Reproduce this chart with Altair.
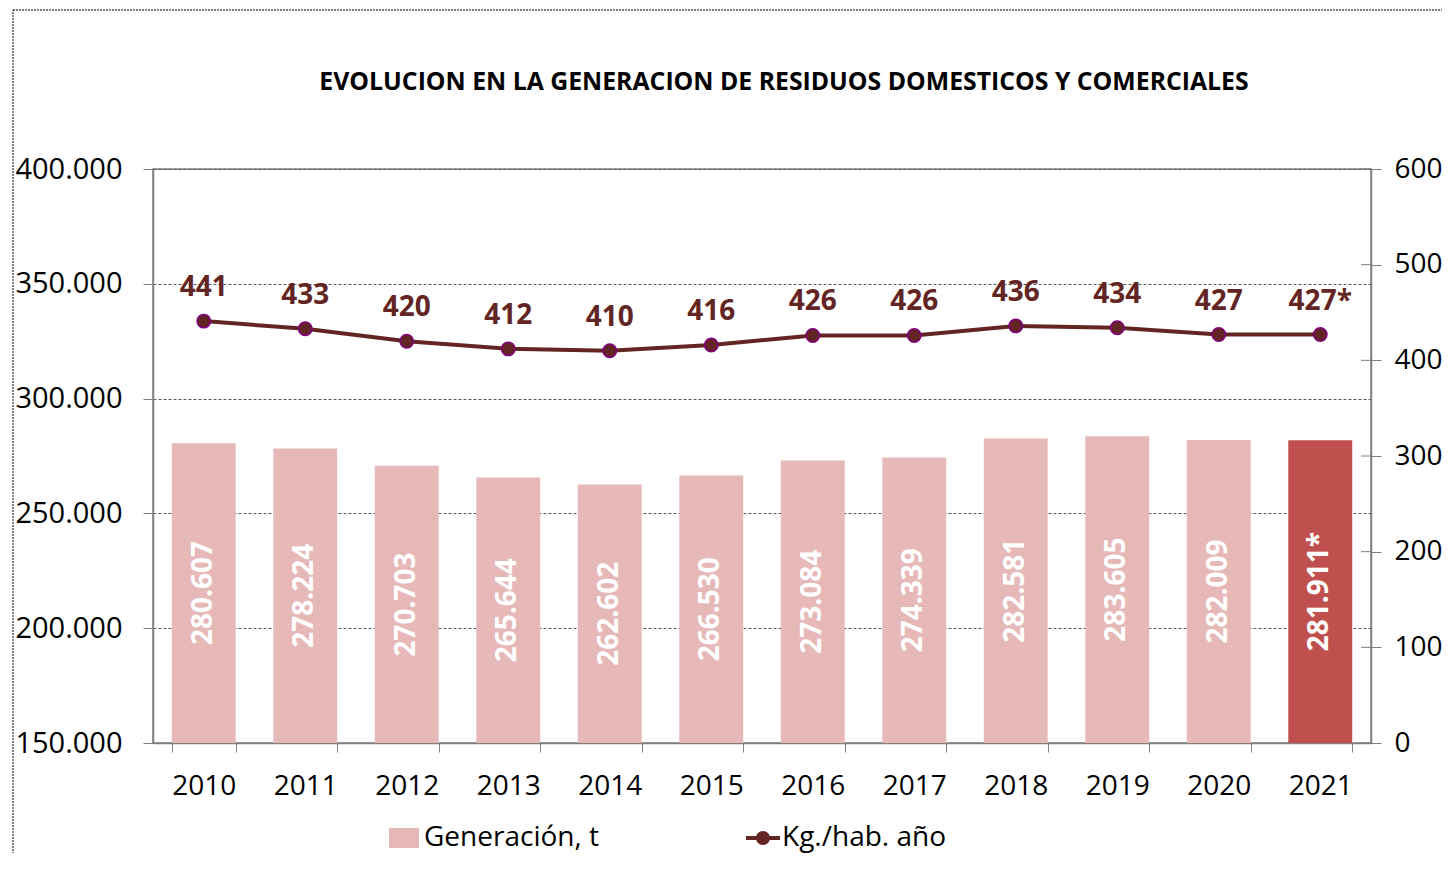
import altair as alt
import pandas as pd

years = ["2010", "2011", "2012", "2013", "2014", "2015", "2016", "2017", "2018", "2019", "2020", "2021"]
generacion = [280607, 278224, 270703, 265644, 262602, 266530, 273084, 274339, 282581, 283605, 282009, 281911]
kg_hab = [441, 433, 420, 412, 410, 416, 426, 426, 436, 434, 427, 427]
estimated = [False] * 11 + [True]
left_ticks = [150000, 200000, 250000, 300000, 350000, 400000]
right_ticks = [0, 100, 200, 300, 400, 500, 600]
series = ["Generación, t", "Kg./hab. año"]
title_text = "EVOLUCION EN LA GENERACION DE RESIDUOS DOMESTICOS Y COMERCIALES"

FONT = "Open Sans"
PINK = "#E6B9B8"
RED = "#C0504D"
MAROON = "#632523"
AXIS_GREY = "#7f7f7f"

df = pd.DataFrame({
    "year": years,
    "gen": generacion,
    "kg": kg_hab,
    "serie": series[0],
    "serie2": series[1],
    "gen_label": [f"{v:,}".replace(",", ".") + ("*" if e else "") for v, e in zip(generacion, estimated)],
    "kg_label": [f"{v}" + ("*" if e else "") for v, e in zip(kg_hab, estimated)],
})
ticks_df = pd.DataFrame({"kg": right_ticks})

base = alt.Chart(df)
xenc = alt.X("year:N", sort=years,
             scale=alt.Scale(paddingInner=0.37, paddingOuter=0.185),
             axis=alt.Axis(title=None, labelAngle=0, tickBand="extent", tickSize=9,
                           labelPadding=20, labelFontSize=28, labelFont=FONT,
                           labelColor="#000", domainColor=AXIS_GREY, tickColor=AXIS_GREY,
                           domainWidth=1.5))

yleft_scale = alt.Scale(domain=[150000, 400000], zero=False, nice=False)
RECT_PATH = "M-1.5,-1H1.5V1H-1.5Z"
LINE_DOT_PATH = "M-1.7,-0.2H1.7V0.2H-1.7Z M0.7,0A0.7,0.7 0 1,1 -0.7,0A0.7,0.7 0 1,1 0.7,0Z"

common_legend = dict(title=None, orient="none", direction="horizontal", symbolSize=400,
                     labelFontSize=28, labelFont=FONT, labelColor="#000",
                     labelLimit=0, padding=0, symbolStrokeWidth=0, symbolOpacity=1)

bars = base.mark_bar().encode(
    x=xenc,
    y=alt.Y("gen:Q", scale=yleft_scale,
            axis=alt.Axis(title=None, values=left_ticks, grid=True, gridDash=[3, 2],
                          gridColor="#595959", gridWidth=1, tickSize=10, labelPadding=21,
                          labelFontSize=29, labelFont=FONT, labelColor="#000",
                          domainColor=AXIS_GREY, tickColor=AXIS_GREY, domainWidth=1.5,
                          labelExpr="replace(format(datum.value, ','), ',', '.')")),
    y2=alt.datum(150000),
    color=alt.condition(
        alt.datum.year == "2021",
        alt.value(RED),
        alt.Color("serie:N", scale=alt.Scale(domain=[series[0]], range=[PINK]),
                  legend=alt.Legend(legendX=237, legendY=655, symbolType=RECT_PATH,
                                    labelOffset=6, **common_legend)),
    ),
)

bar_text = base.transform_calculate(mid="(datum.gen + 150000) / 2").mark_text(
    angle=270, align="center", baseline="middle", color="white", fontWeight="bold",
    fontSize=28, font=FONT,
).encode(x=alt.X("year:N", sort=years), y=alt.Y("mid:Q", scale=yleft_scale), text="gen_label:N")

left = alt.layer(bars, bar_text)

yright_scale = alt.Scale(domain=[0, 600], nice=False)
yright = alt.Y("kg:Q", scale=yright_scale,
               axis=alt.Axis(title=None, orient="right", values=right_ticks, grid=False,
                             tickSize=10, labelPadding=13, labelFontSize=28, labelFont=FONT,
                             labelColor="#000", domainColor=AXIS_GREY, tickColor=AXIS_GREY,
                             domainWidth=1.5))

inner_ticks = alt.Chart(ticks_df).mark_rule(color=AXIS_GREY, strokeWidth=1).encode(
    x=alt.value(1208), x2=alt.value(1218), y=yright)
line = base.mark_line(color=MAROON, strokeWidth=4).encode(x=alt.X("year:N", sort=years), y=yright)
points = base.mark_point(filled=True, fill=MAROON, stroke="#800080", strokeWidth=1.5,
                         size=180, opacity=1).encode(x=alt.X("year:N", sort=years), y=yright)
legend_proxy = base.mark_point(filled=True, color=MAROON, size=0).encode(
    x=alt.X("year:N", sort=years), y=yright,
    shape=alt.Shape("serie2:N", scale=alt.Scale(domain=[series[1]], range=[LINE_DOT_PATH]),
                    legend=alt.Legend(legendX=596, legendY=655, symbolFillColor=MAROON,
                                      labelOffset=5, **common_legend)))
line_text = base.mark_text(dy=-33, color=MAROON, fontWeight="bold", fontSize=28,
                           font=FONT, align="center", baseline="middle").encode(
    x=alt.X("year:N", sort=years), y=alt.Y("kg:Q", scale=yright_scale), text="kg_label:N")

right = alt.layer(line, inner_ticks, points, legend_proxy, line_text)

one = pd.DataFrame({"t": [title_text]})
border = alt.Chart(one).mark_rect(fillOpacity=0, stroke="#000", strokeDash=[2, 1],
                                  strokeWidth=1).encode(
    x=alt.value(-140), x2=alt.value(1296), y=alt.value(-159), y2=alt.value(699))
title = alt.Chart(one).mark_text(fontSize=24.8, fontWeight="bold", font=FONT, color="#000",
                                 align="center", baseline="middle").encode(
    x=alt.value(631), y=alt.value(-86), text="t:N")

chart = alt.layer(border, title, left, right).resolve_scale(y="independent").properties(
    width=1218, height=574,
    autosize=alt.AutoSizeParams(type="none"),
    padding={"left": 145, "top": 161, "right": 71, "bottom": 110},
    background="white",
).configure_view(stroke=AXIS_GREY, strokeWidth=1.5)

chart.save("out.html", embed_options={"renderer": "svg", "actions": False})
